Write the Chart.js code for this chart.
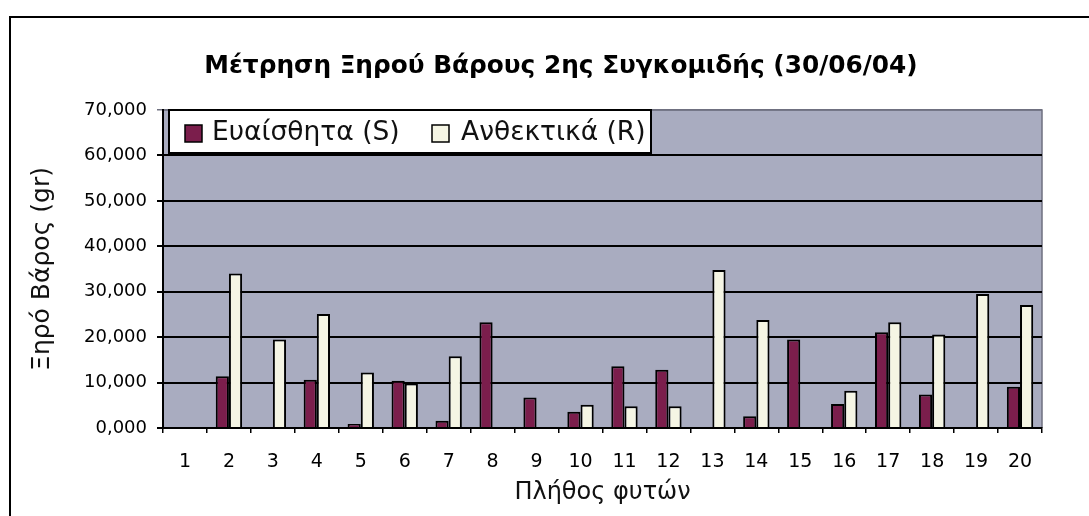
<!DOCTYPE html>
<html>
<head>
<meta charset="utf-8">
<script src="https://cdn.jsdelivr.net/npm/chart.js@4/dist/chart.umd.min.js"></script>
<style>
  html, body { margin: 0; padding: 0; background: #ffffff; }
  canvas { display: block; }
</style>
</head>
<body>
<canvas id="chart" width="1089" height="516"></canvas>
<script>
// Plant number (1..20)
const categories = ['1','2','3','4','5','6','7','8','9','10','11','12','13','14','15','16','17','18','19','20'];

// Dry weight in grams, second harvest
const susceptible = [null, 11.4, null, 10.6, 0.9, 10.4, 1.6, 23.3, 6.7, 3.6, 13.6, 12.8, null, 2.6, 19.5, 5.3, 21.1, 7.4, null, 9.1];
const resistant   = [null, 34.0, 19.5, 25.1, 12.2, 9.8, 15.8, null, null, 5.1, 4.8, 4.8, 34.8, 23.8, null, 8.2, 23.3, 20.6, 29.5, 27.1];

const yTickLabels = ['0,000','10,000','20,000','30,000','40,000','50,000','60,000','70,000'];

const seriesNames = ['Ευαίσθητα (S)', 'Ανθεκτικά (R)'];
const chartTitle = 'Μέτρηση Ξηρού Βάρους 2ης Συγκομιδής (30/06/04)';
const xTitle = 'Πλήθος φυτών';
const yTitle = 'Ξηρό Βάρος (gr)';

const COLOR_S = '#7b1e4c';
const COLOR_R = '#f5f5e4';
const PLOT_BG = '#a9acc0';

// White page, outer frame and the grey plot background
const backdrop = {
  id: 'backdrop',
  beforeDraw(chart) {
    const { ctx, chartArea: a } = chart;
    ctx.save();
    ctx.fillStyle = '#ffffff';
    ctx.fillRect(0, 0, chart.width, chart.height);
    ctx.strokeStyle = '#000000';
    ctx.lineWidth = 2;
    ctx.beginPath();
    ctx.moveTo(10, chart.height);
    ctx.lineTo(10, 17);
    ctx.lineTo(chart.width, 17);
    ctx.stroke();
    ctx.fillStyle = PLOT_BG;
    ctx.fillRect(a.left, a.top, a.right - a.left, a.bottom - a.top);
    ctx.strokeStyle = '#6f7080';
    ctx.lineWidth = 1.5;
    ctx.beginPath();
    ctx.moveTo(a.left, a.top);
    ctx.lineTo(a.right, a.top);
    ctx.lineTo(a.right, a.bottom);
    ctx.stroke();
    ctx.restore();
  }
};

// Chart heading, centred over the whole framed panel
const heading = {
  id: 'heading',
  afterDraw(chart) {
    const { ctx } = chart;
    ctx.save();
    ctx.font = 'bold 24.8px "DejaVu Sans"';
    ctx.fillStyle = '#000000';
    ctx.textAlign = 'center';
    ctx.textBaseline = 'middle';
    ctx.fillText(chartTitle, 561, 67);
    ctx.restore();
  }
};

// Boxed legend sitting in the top-left corner of the plot
const boxedLegend = {
  id: 'boxedLegend',
  afterDatasetsDraw(chart) {
    const { ctx, chartArea: a } = chart;
    const x0 = a.left + 6, y0 = a.top, w = 482, h = 43;
    ctx.save();
    ctx.fillStyle = '#ffffff';
    ctx.fillRect(x0, y0, w, h);
    ctx.strokeStyle = '#000000';
    ctx.lineWidth = 2;
    ctx.strokeRect(x0, y0, w, h);
    const items = [
      { sx: x0 + 16, tx: x0 + 43 },
      { sx: x0 + 263, tx: x0 + 292 }
    ];
    ctx.font = '26.5px "DejaVu Sans"';
    ctx.textBaseline = 'middle';
    ctx.textAlign = 'left';
    chart.data.datasets.forEach((ds, i) => {
      const it = items[i];
      ctx.fillStyle = ds.backgroundColor;
      ctx.fillRect(it.sx, y0 + 15, 17, 17);
      ctx.lineWidth = 1.5;
      ctx.strokeStyle = '#000000';
      ctx.strokeRect(it.sx, y0 + 15, 17, 17);
      ctx.fillStyle = '#111111';
      ctx.fillText(ds.label, it.tx, y0 + 23);
    });
    ctx.restore();
  }
};

new Chart(document.getElementById('chart'), {
  type: 'bar',
  data: {
    labels: categories,
    datasets: [
      {
        label: seriesNames[0],
        data: susceptible,
        backgroundColor: COLOR_S,
        borderColor: '#000000',
        borderWidth: 2,
        borderSkipped: 'bottom'
      },
      {
        label: seriesNames[1],
        data: resistant,
        backgroundColor: COLOR_R,
        borderColor: '#000000',
        borderWidth: 2,
        borderSkipped: 'bottom'
      }
    ]
  },
  options: {
    responsive: false,
    animation: false,
    devicePixelRatio: 1,
    layout: { padding: { left: 10, right: 47, top: 110, bottom: 0 } },
    datasets: {
      bar: { categoryPercentage: 0.6, barPercentage: 1.0 }
    },
    plugins: {
      legend: { display: false },
      tooltip: { enabled: false },
      title: { display: false }
    },
    scales: {
      x: {
        grid: {
          offset: true,
          drawOnChartArea: false,
          drawTicks: true,
          tickLength: 5,
          color: '#000000',
          lineWidth: 1.5
        },
        border: { display: true, color: '#000000', width: 2 },
        ticks: {
          color: '#000000',
          font: { family: '"DejaVu Sans", sans-serif', size: 19 },
          padding: 18,
          maxRotation: 0,
          autoSkip: false
        },
        title: {
          display: true,
          text: xTitle,
          color: '#111111',
          font: { family: '"DejaVu Sans", sans-serif', size: 24 },
          padding: { top: 0, bottom: 9 }
        },
        afterFit(scale) { scale.height = 88; }
      },
      y: {
        min: 0,
        max: 70,
        grid: {
          drawTicks: true,
          tickLength: 6,
          color: (c) => (c.tick && c.tick.value === 70 ? '#6f7080' : '#000000'),
          lineWidth: (c) => (c.tick && c.tick.value === 70 ? 1.5 : 2)
        },
        border: { display: true, color: '#000000', width: 2 },
        ticks: {
          stepSize: 10,
          color: '#000000',
          font: { family: '"DejaVu Sans", sans-serif', size: 18 },
          padding: 10,
          callback: (value, index) => yTickLabels[index]
        },
        title: {
          display: true,
          text: yTitle,
          color: '#111111',
          font: { family: '"DejaVu Sans", sans-serif', size: 25 },
          padding: { top: 17, bottom: 0 }
        },
        afterFit(scale) { scale.width = 153; }
      }
    }
  },
  plugins: [backdrop, heading, boxedLegend]
});
</script>
</body>
</html>
